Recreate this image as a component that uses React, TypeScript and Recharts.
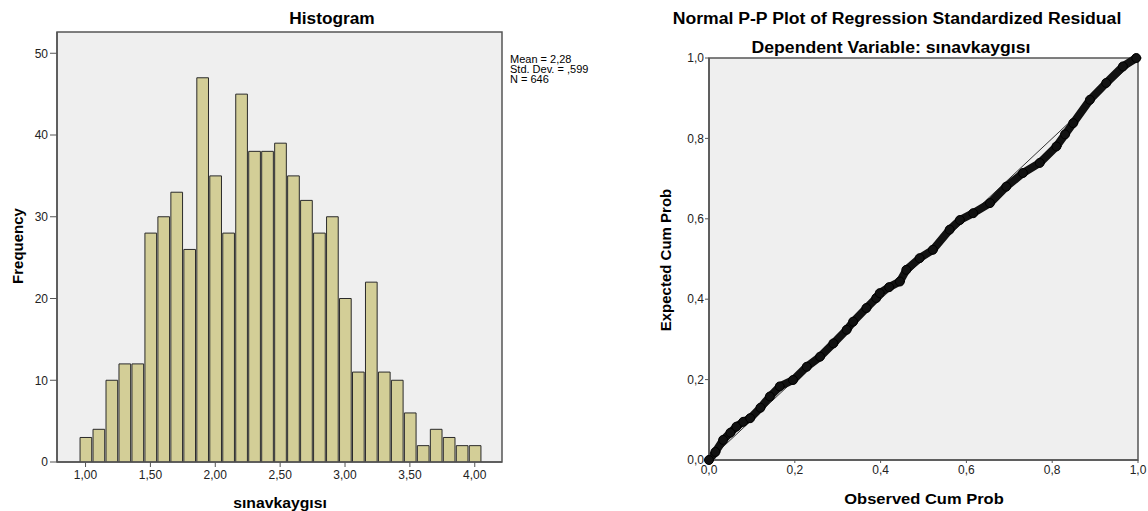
import React from 'react';
import {
  ComposedChart,
  Bar,
  XAxis,
  YAxis,
  CartesianGrid,
  ReferenceArea,
  ReferenceLine,
  Line,
} from 'recharts';

// ---------- Histogram data ----------
const binCenters = [
  1.0, 1.1, 1.2, 1.3, 1.4, 1.5, 1.6, 1.7, 1.8, 1.9, 2.0, 2.1, 2.2, 2.3, 2.4, 2.5,
  2.6, 2.7, 2.8, 2.9, 3.0, 3.1, 3.2, 3.3, 3.4, 3.5, 3.6, 3.7, 3.8, 3.9, 4.0,
];
const frequencies = [
  3, 4, 10, 12, 12, 28, 30, 33, 26, 47, 35, 28, 45, 38, 38, 39, 35, 32, 28, 30, 20,
  11, 22, 11, 10, 6, 2, 4, 3, 2, 2,
];
const histXTicks = [1, 1.5, 2, 2.5, 3, 3.5, 4];
const histYTicks = [0, 10, 20, 30, 40, 50];
const histXDomain = [0.78, 4.21];
const histYDomain = [0, 52.6];
const legendLines = ['Mean = 2,28', 'Std. Dev. = ,599', 'N = 646'];

// ---------- P-P plot data ----------
const observedCum = [
  0, 0.015, 0.033, 0.05, 0.064, 0.08, 0.096, 0.12, 0.142, 0.165, 0.196, 0.228, 0.259,
  0.29, 0.321, 0.336, 0.367, 0.39, 0.398, 0.42, 0.445, 0.46, 0.491, 0.522, 0.561,
  0.585, 0.616, 0.655, 0.693, 0.732, 0.771, 0.81, 0.83, 0.849, 0.888, 0.926, 0.965,
  0.996,
];
const expectedCum = [
  0, 0.02, 0.05, 0.068, 0.083, 0.095, 0.104, 0.13, 0.158, 0.183, 0.199, 0.232, 0.257,
  0.29, 0.324, 0.344, 0.378, 0.403, 0.415, 0.43, 0.444, 0.473, 0.502, 0.523, 0.573,
  0.597, 0.614, 0.639, 0.68, 0.714, 0.739, 0.78, 0.81, 0.838, 0.896, 0.938, 0.979,
  1.0,
];
const ppTicks = [0, 0.2, 0.4, 0.6, 0.8, 1];

const histData = binCenters.map((x, i) => ({ x, freq: frequencies[i] }));
const ppData = observedCum.map((x, i) => ({ x, y: expectedCum[i] }));

const FONT = '"Liberation Sans", Arial, sans-serif';
const BG = '#efefef';
const FRAME = '#555555';
const tickStyle = { fontSize: 12, fill: '#222', fontFamily: FONT };

const fmt2 = (v: number) => v.toFixed(2).replace('.', ',');
const fmt1 = (v: number) => v.toFixed(1).replace('.', ',');

const Txt: React.FC<{
  x: number;
  y: number;
  size: number;
  bold?: boolean;
  rotate?: boolean;
  stretch?: number;
  children: React.ReactNode;
}> = ({ x, y, size, bold, rotate, stretch = 1, children }) => (
  <div
    style={{
      position: 'absolute',
      left: x,
      top: y,
      transform: `translate(-50%, -50%)${rotate ? ' rotate(-90deg)' : ''} scaleX(${stretch})`,
      fontFamily: FONT,
      fontSize: size,
      fontWeight: bold ? 'bold' : 'normal',
      whiteSpace: 'nowrap',
      color: '#000',
      lineHeight: 1,
    }}
  >
    {children}
  </div>
);

export default function App() {
  return (
    <div
      style={{
        position: 'absolute',
        left: 0,
        top: 0,
        width: 1148,
        height: 511,
        background: '#fff',
        overflow: 'hidden',
      }}
    >
      {/* Histogram */}
      <div style={{ position: 'absolute', left: 0, top: 0 }}>
        <ComposedChart
          width={640}
          height={511}
          data={histData}
          margin={{ top: 32, right: 138, bottom: 0, left: 0 }}
        >
          <CartesianGrid fill={BG} horizontal={false} vertical={false} />
          <XAxis
            dataKey="x"
            type="number"
            domain={histXDomain}
            allowDataOverflow
            ticks={histXTicks}
            tickFormatter={fmt2}
            height={49}
            tickSize={5}
            tickMargin={3}
            tick={tickStyle}
            axisLine={{ stroke: FRAME, strokeWidth: 1.5 }}
            tickLine={{ stroke: FRAME }}
          />
          <YAxis
            type="number"
            domain={histYDomain}
            allowDataOverflow
            ticks={histYTicks}
            width={57}
            tickSize={7}
            tickMargin={2}
            tick={tickStyle}
            axisLine={{ stroke: FRAME, strokeWidth: 1.5 }}
            tickLine={{ stroke: FRAME }}
          />
          <Bar
            dataKey="freq"
            fill="#d3ce97"
            stroke="#2a2a2a"
            strokeWidth={1}
            barSize={13}
            isAnimationActive={false}
          />
          <ReferenceArea
            x1={histXDomain[0]}
            x2={histXDomain[1]}
            y1={histYDomain[0]}
            y2={histYDomain[1]}
            fill="none"
            stroke={FRAME}
            strokeWidth={1.5}
            ifOverflow="visible"
          />
        </ComposedChart>
      </div>
      <Txt x={332} y={19} size={16} bold stretch={1.08}>
        Histogram
      </Txt>
      <Txt x={17} y={246} size={15} bold rotate>
        Frequency
      </Txt>
      <Txt x={280} y={502} size={15} bold stretch={1.05}>
        sınavkaygısı
      </Txt>
      <div
        style={{
          position: 'absolute',
          left: 510,
          top: 55,
          fontFamily: FONT,
          fontSize: 10,
          lineHeight: '10px',
          color: '#000',
          whiteSpace: 'nowrap',
          transform: 'scaleX(1.1)',
          transformOrigin: 'left top',
        }}
      >
        {legendLines.map((l) => (
          <div key={l}>{l}</div>
        ))}
      </div>

      {/* P-P plot */}
      <div style={{ position: 'absolute', left: 640, top: 0 }}>
        <ComposedChart
          width={508}
          height={511}
          data={ppData}
          margin={{ top: 58, right: 10, bottom: 0, left: 0 }}
        >
          <CartesianGrid fill={BG} horizontal={false} vertical={false} />
          <XAxis
            dataKey="x"
            type="number"
            domain={[0, 1]}
            ticks={ppTicks}
            tickFormatter={fmt1}
            height={51}
            tickSize={3}
            tickMargin={2}
            tick={tickStyle}
            axisLine={{ stroke: FRAME, strokeWidth: 1.5 }}
            tickLine={{ stroke: FRAME }}
          />
          <YAxis
            type="number"
            domain={[0, 1]}
            ticks={ppTicks}
            tickFormatter={fmt1}
            width={69}
            tickSize={4}
            tickMargin={1}
            tick={tickStyle}
            axisLine={{ stroke: FRAME, strokeWidth: 1.5 }}
            tickLine={{ stroke: FRAME }}
          />
          <ReferenceArea
            x1={0}
            x2={1}
            y1={0}
            y2={1}
            fill="none"
            stroke={FRAME}
            strokeWidth={1.5}
            ifOverflow="visible"
          />
          <ReferenceLine
            segment={[
              { x: 0, y: 0 },
              { x: 1, y: 1 },
            ]}
            stroke="#333"
            strokeWidth={1}
          />
          <Line
            dataKey="y"
            type="linear"
            stroke="#111"
            strokeWidth={8}
            strokeLinecap="round"
            strokeLinejoin="round"
            dot={{ r: 4.5, fill: '#111', stroke: '#000', strokeWidth: 1 }}
            isAnimationActive={false}
          />
        </ComposedChart>
      </div>
      <Txt x={897} y={19} size={16} bold stretch={1.1}>
        Normal P-P Plot of Regression Standardized Residual
      </Txt>
      <Txt x={891} y={48} size={16} bold stretch={1.1}>
        Dependent Variable: sınavkaygısı
      </Txt>
      <Txt x={665} y={260} size={15} bold rotate>
        Expected Cum Prob
      </Txt>
      <Txt x={924} y={498} size={15} bold stretch={1.1}>
        Observed Cum Prob
      </Txt>
    </div>
  );
}
